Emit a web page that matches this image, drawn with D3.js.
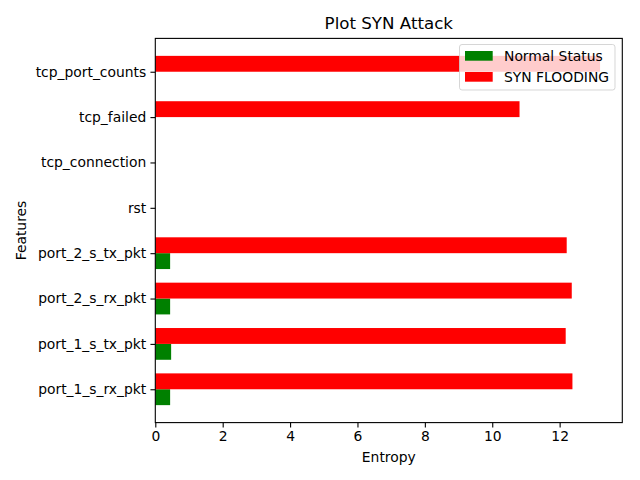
<!DOCTYPE html>
<html>
<head>
<meta charset="utf-8">
<script src="https://cdn.jsdelivr.net/npm/d3@7"></script>
<style>
body { margin: 0; background: #fff; }
svg { display: block; font-family: "DejaVu Sans", sans-serif; }
</style>
</head>
<body>
<svg id="chart" width="640" height="480"></svg>
<script>
const categories = ["port_1_s_rx_pkt", "port_1_s_tx_pkt", "port_2_s_rx_pkt", "port_2_s_tx_pkt", "rst", "tcp_connection", "tcp_failed", "tcp_port_counts"];
const normalStatus = [0.44, 0.47, 0.44, 0.44, 0, 0, 0, 0];
const synFlooding = [12.38, 12.18, 12.36, 12.21, 0, 0, 10.81, 13.2];
const xTicks = [0, 2, 4, 6, 8, 10, 12];
const seriesNames = ["Normal Status", "SYN FLOODING"];
const seriesColors = ["#008000", "#ff0000"];

const barH = 0.35;
const FS = 13.89;
const svg = d3.select("#chart");
const L = 155.3, R = 622.3, T = 38.4, B = 422.6;

const maxV = d3.max(synFlooding.concat(normalStatus));
const x = d3.scaleLinear().domain([0, maxV * 1.05]).range([L, R]);
const yMin = -barH, yMax = categories.length - 1 + barH;
const yPad = (yMax - yMin) * 0.05;
const y = d3.scaleLinear().domain([yMin - yPad, yMax + yPad]).range([B, T]);

// bars
const g = svg.append("g");
g.selectAll("rect.normal").data(normalStatus).join("rect")
  .attr("class", "normal")
  .attr("x", x(0))
  .attr("y", (d, i) => y(i))
  .attr("width", d => x(d) - x(0))
  .attr("height", (d, i) => y(i - barH) - y(i))
  .attr("fill", seriesColors[0]);
g.selectAll("rect.syn").data(synFlooding).join("rect")
  .attr("class", "syn")
  .attr("x", x(0))
  .attr("y", (d, i) => y(i + barH))
  .attr("width", d => x(d) - x(0))
  .attr("height", (d, i) => y(i) - y(i + barH))
  .attr("fill", seriesColors[1]);

// axes
const xAxis = d3.axisBottom(x).tickValues(xTicks).tickFormat(d3.format("d")).tickSize(4.86).tickPadding(3.5);
const gx = svg.append("g").attr("transform", `translate(0,${B})`).call(xAxis);
gx.select(".domain").remove();
gx.selectAll("text").attr("font-size", FS).attr("fill", "#000").attr("font-family", "DejaVu Sans, sans-serif");
gx.selectAll("line").attr("stroke", "#000").attr("stroke-width", 1.1);

const yAxis = d3.axisLeft(y).tickValues(d3.range(categories.length)).tickFormat(i => categories[i]).tickSize(4.86).tickPadding(4.2);
const gy = svg.append("g").attr("transform", `translate(${L},0)`).call(yAxis);
gy.select(".domain").remove();
gy.selectAll("text").attr("font-size", FS).attr("fill", "#000").attr("font-family", "DejaVu Sans, sans-serif");
gy.selectAll("line").attr("stroke", "#000").attr("stroke-width", 1.1);

// frame
svg.append("rect").attr("x", L).attr("y", T).attr("width", R - L).attr("height", B - T)
  .attr("fill", "none").attr("stroke", "#000").attr("stroke-width", 1.1);

// labels
svg.append("text").attr("x", (L + R) / 2).attr("y", 29).attr("text-anchor", "middle")
  .attr("font-size", 16.67).text("Plot SYN Attack");
svg.append("text").attr("x", (L + R) / 2).attr("y", 462).attr("text-anchor", "middle")
  .attr("font-size", FS).text("Entropy");
svg.append("text").attr("transform", `translate(26,${(T + B) / 2}) rotate(-90)`).attr("text-anchor", "middle")
  .attr("font-size", FS).text("Features");

// legend
const lg = svg.append("g");
lg.append("rect").attr("x", 459.5).attr("y", 44.5).attr("width", 155.5).attr("height", 45.5)
  .attr("rx", 2.5).attr("fill", "#fff").attr("fill-opacity", 0.8)
  .attr("stroke", "#cccccc").attr("stroke-opacity", 0.8).attr("stroke-width", 1);
seriesNames.forEach((name, i) => {
  lg.append("rect").attr("x", 465).attr("y", 51 + i * 21).attr("width", 27.7).attr("height", 9.7)
    .attr("fill", seriesColors[i]);
  lg.append("text").attr("x", 504).attr("y", 60.8 + i * 21).attr("font-size", FS).text(name);
});
</script>
</body>
</html>
